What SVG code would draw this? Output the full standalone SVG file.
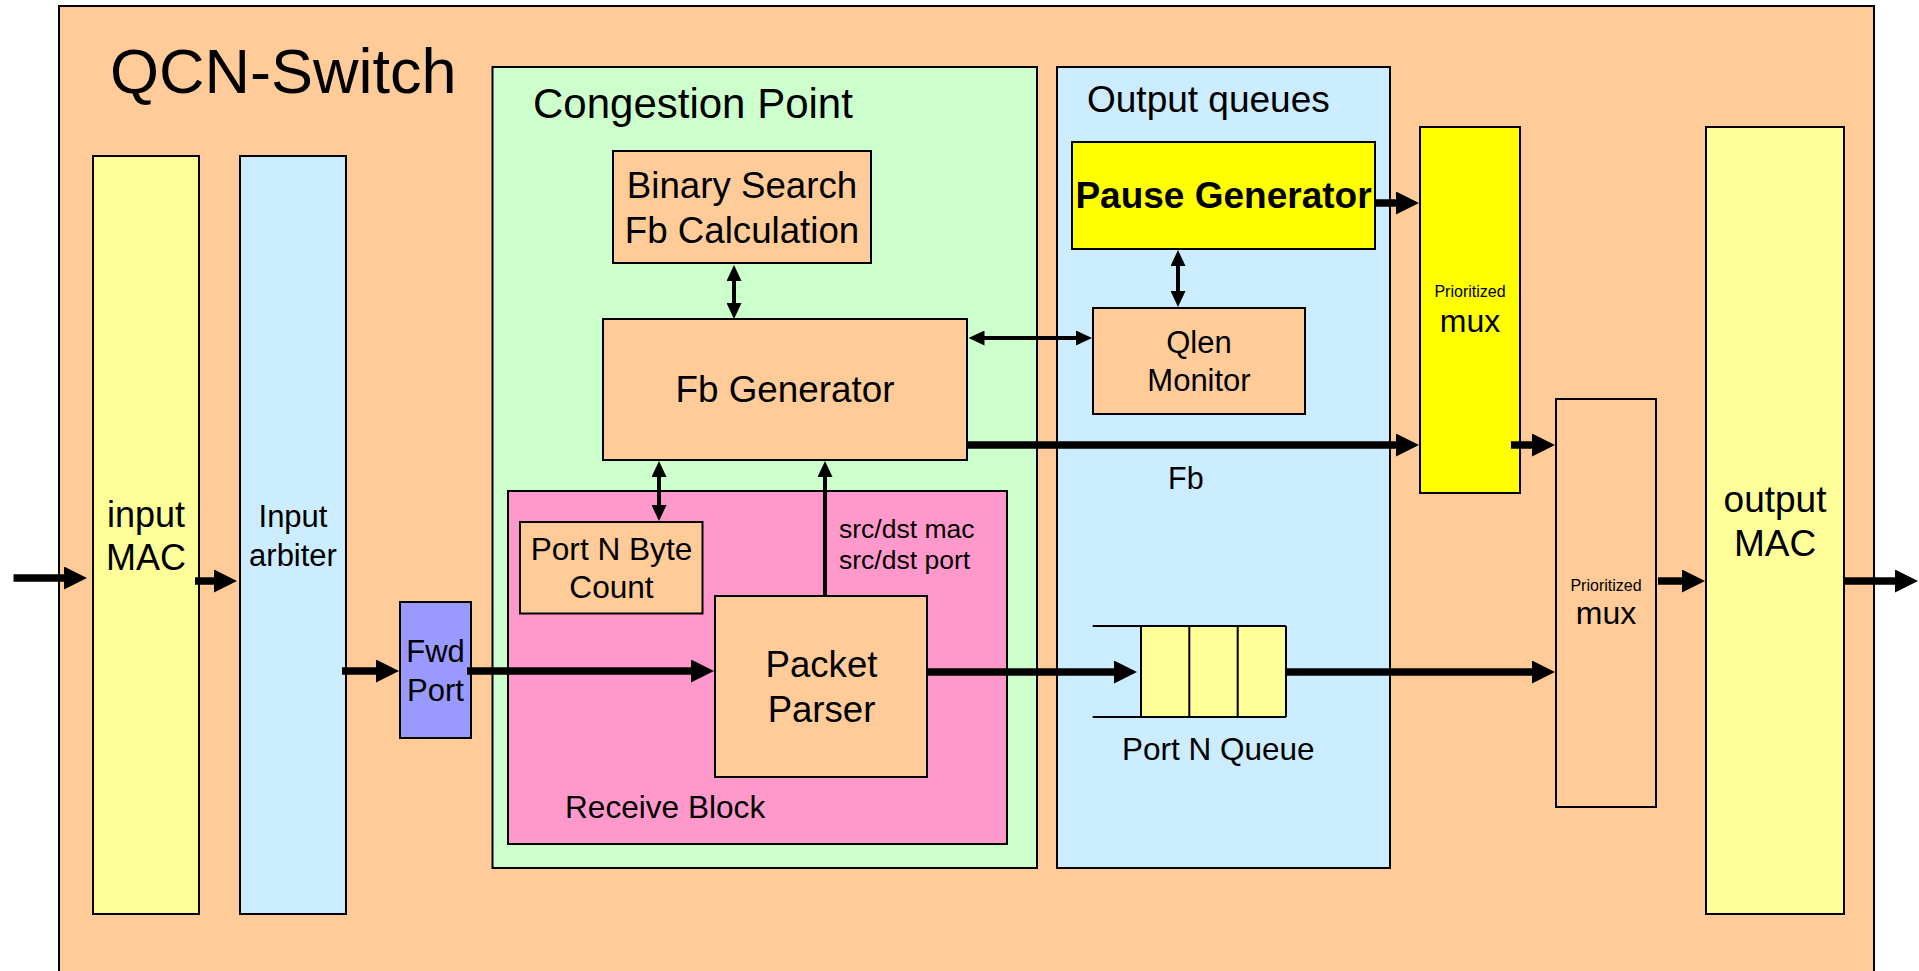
<svg xmlns="http://www.w3.org/2000/svg" width="1919" height="971" viewBox="0 0 1919 971">
  <style>
    .box { stroke: #000; stroke-width: 2; }
    .t { font-family: "Liberation Sans", Arial, sans-serif; fill: #000; }
    .c { text-anchor: middle; }
    .thick { stroke: #000; stroke-width: 7.5; fill: none; marker-end: url(#ah); }
    .thin { stroke: #000; stroke-width: 4; fill: none; }
    .peach { fill: #FFCC99; }
    .lyellow { fill: #FFFF99; }
    .yellow { fill: #FFFF00; }
    .lblue { fill: #CCECFF; }
  </style>
  <defs>
    <marker id="ah" markerUnits="userSpaceOnUse" viewBox="0 0 23 23" refX="1" refY="11.5" markerWidth="23" markerHeight="23" orient="auto-start-reverse">
      <path d="M0,0 L23,11.5 L0,23 z" fill="#000"/>
    </marker>
    <marker id="as" markerUnits="userSpaceOnUse" viewBox="0 0 16 15" refX="1" refY="7.5" markerWidth="16" markerHeight="15" orient="auto-start-reverse">
      <path d="M0,0 L16,7.5 L0,15 z" fill="#000"/>
    </marker>
  </defs>

  <rect width="1919" height="971" fill="#fff"/>

  <!-- switch enclosure -->
  <g id="qcn-switch">
    <rect class="box peach" x="59" y="6" width="1815" height="1000"/>
    <text class="t" x="110" y="93" font-size="63">QCN-Switch</text>
  </g>

  <g id="input-mac">
    <rect class="box lyellow" x="93" y="156" width="106" height="758"/>
    <text class="t c" x="146" y="527" font-size="36">input</text>
    <text class="t c" x="146" y="570" font-size="36">MAC</text>
  </g>

  <g id="input-arbiter">
    <rect class="box lblue" x="240" y="156" width="106" height="758"/>
    <text class="t c" x="293" y="527" font-size="31">Input</text>
    <text class="t c" x="293" y="566" font-size="31">arbiter</text>
  </g>

  <g id="fwd-port">
    <rect class="box" fill="#9999FF" x="400" y="602" width="71" height="136"/>
    <text class="t c" x="435.5" y="662" font-size="31">Fwd</text>
    <text class="t c" x="435.5" y="701" font-size="31">Port</text>
  </g>

  <g id="congestion-point">
    <rect class="box" fill="#CCFFCC" x="492.5" y="67" width="544.5" height="801"/>
    <text class="t" x="533" y="118" font-size="42">Congestion Point</text>
  </g>

  <g id="binary-search">
    <rect class="box peach" x="613" y="151" width="258" height="112"/>
    <text class="t c" x="742" y="198" font-size="36.7">Binary Search</text>
    <text class="t c" x="742" y="243" font-size="36.7">Fb Calculation</text>
  </g>

  <g id="fb-generator">
    <rect class="box peach" x="603" y="319" width="364" height="141"/>
    <text class="t c" x="785" y="402" font-size="36.8">Fb Generator</text>
  </g>

  <g id="receive-block">
    <rect class="box" fill="#FF99CC" x="508" y="491" width="499" height="353"/>
    <text class="t" x="565" y="818" font-size="31.6">Receive Block</text>
  </g>

  <g id="byte-count">
    <rect class="box peach" x="520" y="522" width="182.5" height="91.5"/>
    <text class="t c" x="611.5" y="560" font-size="31.6">Port N Byte</text>
    <text class="t c" x="611.5" y="598" font-size="31.6">Count</text>
  </g>

  <g id="packet-parser">
    <rect class="box peach" x="715" y="596" width="212" height="181"/>
    <text class="t c" x="821.5" y="677" font-size="36.6">Packet</text>
    <text class="t c" x="821.5" y="722" font-size="36.6">Parser</text>
  </g>

  <g id="output-queues">
    <rect class="box lblue" x="1057" y="67" width="333" height="801"/>
    <text class="t" x="1087" y="112" font-size="37">Output queues</text>
  </g>

  <g id="pause-generator">
    <rect class="box yellow" x="1072" y="142" width="303" height="107"/>
    <text class="t c" x="1223.5" y="208" font-size="37" font-weight="bold">Pause Generator</text>
  </g>

  <g id="qlen-monitor">
    <rect class="box peach" x="1093" y="308" width="212" height="106"/>
    <text class="t c" x="1199" y="353" font-size="31">Qlen</text>
    <text class="t c" x="1199" y="391" font-size="31">Monitor</text>
  </g>

  <g id="port-queue">
    <rect class="lyellow" x="1141" y="626" width="145" height="91"/>
    <path d="M1092.7,626 H1286 M1092.7,717 H1286 M1141,626 V717 M1189.3,626 V717 M1237.7,626 V717 M1286,626 V717" stroke="#000" stroke-width="2" fill="none"/>
    <text class="t" x="1122" y="760" font-size="31.5">Port N Queue</text>
  </g>

  <g id="mux-pause">
    <rect class="box yellow" x="1420" y="127" width="100" height="366"/>
    <text class="t c" x="1470" y="297" font-size="16">Prioritized</text>
    <text class="t c" x="1470" y="332" font-size="32">mux</text>
  </g>

  <g id="mux-out">
    <rect class="box peach" x="1556" y="399" width="100" height="408"/>
    <text class="t c" x="1606" y="591" font-size="16">Prioritized</text>
    <text class="t c" x="1606" y="624" font-size="32">mux</text>
  </g>

  <g id="output-mac">
    <rect class="box lyellow" x="1706" y="127" width="138" height="787"/>
    <text class="t c" x="1775" y="512" font-size="37">output</text>
    <text class="t c" x="1775" y="556" font-size="37">MAC</text>
  </g>

  <text class="t" x="1168" y="489" font-size="30.5">Fb</text>
  <text class="t" x="839" y="538" font-size="26.5">src/dst mac</text>
  <text class="t" x="839" y="569" font-size="26.5">src/dst port</text>

  <!-- data and control paths -->
  <g id="connectors">
    <line class="thick" x1="13.5" y1="578" x2="65" y2="578"/>
    <line class="thick" x1="195" y1="581" x2="215" y2="581"/>
    <line class="thick" x1="342" y1="671" x2="377" y2="671"/>
    <line class="thick" x1="467" y1="671" x2="692" y2="671"/>
    <line class="thick" x1="927" y1="672" x2="1115" y2="672"/>
    <line class="thick" x1="1286" y1="672" x2="1533" y2="672"/>
    <line class="thick" x1="967" y1="445" x2="1397" y2="445"/>
    <line class="thick" x1="1375" y1="203" x2="1397" y2="203"/>
    <line class="thick" x1="1511" y1="445" x2="1533" y2="445"/>
    <line class="thick" x1="1658" y1="581" x2="1683" y2="581"/>
    <line class="thick" x1="1844" y1="581" x2="1896" y2="581"/>

    <line class="thin" x1="734" y1="280" x2="734" y2="304" marker-start="url(#as)" marker-end="url(#as)"/>
    <line class="thin" x1="983.5" y1="338" x2="1077" y2="338" marker-start="url(#as)" marker-end="url(#as)"/>
    <line class="thin" x1="1178" y1="265" x2="1178" y2="292" marker-start="url(#as)" marker-end="url(#as)"/>
    <line class="thin" x1="659" y1="476" x2="659" y2="506" marker-start="url(#as)" marker-end="url(#as)"/>
    <line class="thin" x1="825" y1="596" x2="825" y2="476" marker-end="url(#as)"/>
  </g>
</svg>
